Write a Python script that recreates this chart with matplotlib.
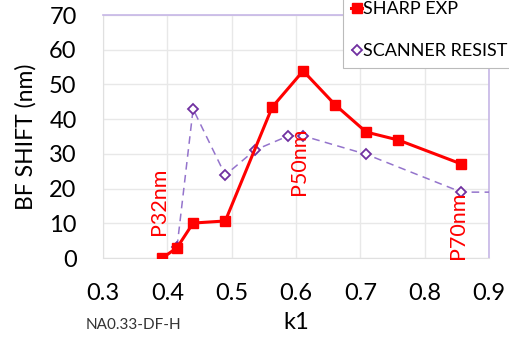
import matplotlib
matplotlib.use("Agg")
import matplotlib.pyplot as plt

plt.rcParams['font.family'] = ['Lato', 'DejaVu Sans']

# values
sharp_k1 = [0.392, 0.415, 0.44, 0.49, 0.563, 0.611, 0.661, 0.709, 0.759, 0.857]
sharp_bf = [0, 3, 10.1, 10.7, 43.5, 53.9, 44.1, 36.3, 34.0, 27.1]
scanner_k1 = [0.415, 0.44, 0.49, 0.536, 0.588, 0.611, 0.709, 0.857, 0.95]
scanner_bf = [3.2, 42.9, 23.9, 31.1, 35.2, 35.2, 29.9, 19.0, 19.0]

pitch_labels = ['P32nm', 'P50nm', 'P70nm']
pitch_k1 = [0.387, 0.605, 0.852]
pitch_y = [16.4, 28.0, 9.5]

xticks = [0.3, 0.4, 0.5, 0.6, 0.7, 0.8, 0.9]
yticks = [0, 10, 20, 30, 40, 50, 60, 70]

fig = plt.figure(figsize=(5.1, 3.41), dpi=100)
ax = fig.add_axes([0.202, 0.243, 0.757, 0.713])

ax.plot(scanner_k1, scanner_bf, color='#9474cc', linestyle=(0, (5, 3.5)), linewidth=1.1,
        marker='D', markersize=5.5, markerfacecolor='white', markeredgecolor='#7030a0',
        markeredgewidth=1.3, label='SCANNER RESIST', zorder=3)
ax.plot(sharp_k1, sharp_bf, color='#ff0000', linewidth=2.2, marker='s', markersize=7,
        label='SHARP EXP', zorder=4)

# pitch annotations
for lab, x, y in zip(pitch_labels, pitch_k1, pitch_y):
    ax.text(x, y, lab, rotation=90, color='#ff0000', fontsize=15.5,
            ha='center', va='center', zorder=5)

ax.set_xlim(0.3, 0.9)
ax.set_ylim(0, 70)
ax.set_xticks(xticks)
ax.set_yticks(yticks)
ax.set_xticklabels([f'{t:.1f}' for t in xticks])
ax.tick_params(axis='both', length=0, labelsize=17)
ax.tick_params(axis='x', pad=18)
ax.tick_params(axis='y', pad=19)
ax.grid(True, color='#e8e8e8', linewidth=1)
ax.set_axisbelow(True)

for side in ['left', 'bottom']:
    ax.spines[side].set_color('#e0e0e0')
for side in ['top', 'right']:
    ax.spines[side].set_color('#c6b6e6')
    ax.spines[side].set_linewidth(1.2)

ax.set_ylabel('BF SHIFT (nm)', fontsize=16.5, labelpad=9)
ax.set_xlabel('k1', fontsize=17, labelpad=6)

fig.text(0.167, 0.047, 'NA0.33-DF-H', fontsize=11, color='#333333', va='center')

# legend sits on the top-right corner, partly cut off like the original
h, l = ax.get_legend_handles_labels()
leg = ax.legend(h[::-1], l[::-1], loc='upper left', bbox_to_anchor=(343 / 510, 1.02),
                bbox_transform=fig.transFigure, fontsize=13, handlelength=0.6,
                handletextpad=0.05, labelspacing=1.45, borderpad=0.45, borderaxespad=0,
                frameon=True, fancybox=False, edgecolor='#bbbbbb', framealpha=1)
leg.get_frame().set_linewidth(0.8)

fig.savefig('out.png', dpi=100)
